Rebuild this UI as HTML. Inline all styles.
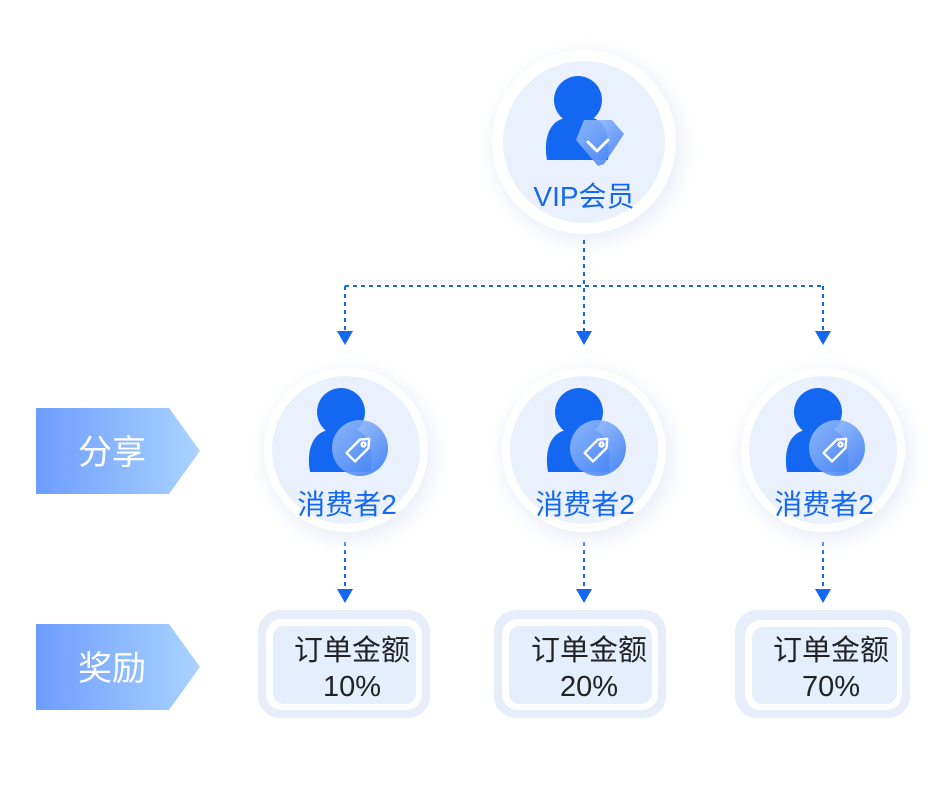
<!DOCTYPE html>
<html><head><meta charset="utf-8"><style>
html,body{margin:0;padding:0;background:#fff;}
svg{display:block;font-family:"Liberation Sans","Noto Sans CJK SC",sans-serif;}
</style></head><body>
<svg width="952" height="796" viewBox="0 0 952 796" xmlns="http://www.w3.org/2000/svg">
<defs>
<linearGradient id="lab" x1="0" x2="1" y1="0" y2="0"><stop offset="0" stop-color="#6e9cff"/><stop offset="1" stop-color="#a9d4ff"/></linearGradient>
<linearGradient id="badge" x1="0" y1="0" x2="1" y2="1"><stop offset="0" stop-color="#9fc2fb" stop-opacity="0.85"/><stop offset="1" stop-color="#3d7ef5" stop-opacity="0.95"/></linearGradient>
<filter id="blur" x="-30%" y="-30%" width="160%" height="160%"><feGaussianBlur stdDeviation="8"/></filter>
<g id="person">
<circle cx="0" cy="-38" r="24" fill="#1467f0"/>
<path d="M-31 22 C-35 0 -28 -18 -12 -20 L14 -20 C28 -18 32 0 30 22 Z" fill="#1467f0"/>
</g>
<g id="tagbadge">
<circle cx="0" cy="0" r="28" fill="url(#badge)"/>
<g transform="rotate(-45)" fill="none" stroke="#fff" stroke-width="2.4" stroke-linejoin="round">
<path d="M-13 -6 L6 -6 L13 0 L6 6 L-13 6 Z"/><circle cx="5" cy="0" r="2"/>
</g>
</g>
</defs>

<circle cx="588" cy="148" r="96" fill="#e8edf7" filter="url(#blur)" opacity="0.8"/>
<circle cx="584" cy="142" r="92" fill="#fff"/>
<circle cx="584" cy="142" r="81" fill="#eaf1fd"/>
<use href="#person" x="578" y="138"/>
<path d="M584 120 L612 120 L624 134 L604 164 L598 166 L576 140 Z" fill="url(#badge)"/>
<path d="M588 142 L597 151 L608 140" fill="none" stroke="#fff" stroke-width="3" stroke-linecap="round" stroke-linejoin="round"/>
<text x="584" y="206" text-anchor="middle" font-size="28" fill="#1467f0">VIP会员</text>

<g stroke="#1467f0" stroke-width="2" stroke-dasharray="4 4" fill="none">
<path d="M584 240 V332"/><path d="M345 286 H823"/><path d="M345 286 V332"/><path d="M823 286 V332"/>
<path d="M345 542 V590"/><path d="M584 542 V590"/><path d="M823 542 V590"/>
</g>
<g fill="#1467f0">
<path d="M337 331 H353 L345 345 Z"/><path d="M576 331 H592 L584 345 Z"/><path d="M815 331 H831 L823 345 Z"/>
<path d="M337 589 H353 L345 603 Z"/><path d="M576 589 H592 L584 603 Z"/><path d="M815 589 H831 L823 603 Z"/>
</g>

<path d="M36 408 H169 L200 451 L169 494 H36 Z" fill="url(#lab)"/>
<text x="112" y="464" text-anchor="middle" font-size="34" fill="#fff">分享</text>
<path d="M36 624 H169 L200 667 L169 710 H36 Z" fill="url(#lab)"/>
<text x="112" y="680" text-anchor="middle" font-size="34" fill="#fff">奖励</text>

<g>
<circle cx="350" cy="456" r="86" fill="#e8edf7" filter="url(#blur)" opacity="0.8"/>
<circle cx="346" cy="450" r="82" fill="#fff"/>
<circle cx="346" cy="450" r="74" fill="#eaf1fd"/>
<use href="#person" x="341" y="450"/>
<use href="#tagbadge" x="360" y="448"/>
<text x="347" y="514" text-anchor="middle" font-size="28" fill="#1467f0">消费者2</text>
</g>
<g>
<circle cx="588" cy="456" r="86" fill="#e8edf7" filter="url(#blur)" opacity="0.8"/>
<circle cx="584" cy="450" r="82" fill="#fff"/>
<circle cx="584" cy="450" r="74" fill="#eaf1fd"/>
<use href="#person" x="579" y="450"/>
<use href="#tagbadge" x="598" y="448"/>
<text x="585" y="514" text-anchor="middle" font-size="28" fill="#1467f0">消费者2</text>
</g>
<g>
<circle cx="827" cy="456" r="86" fill="#e8edf7" filter="url(#blur)" opacity="0.8"/>
<circle cx="823" cy="450" r="82" fill="#fff"/>
<circle cx="823" cy="450" r="74" fill="#eaf1fd"/>
<use href="#person" x="818" y="450"/>
<use href="#tagbadge" x="837" y="448"/>
<text x="824" y="514" text-anchor="middle" font-size="28" fill="#1467f0">消费者2</text>
</g>

<g>
<rect x="258" y="610" width="172" height="108" rx="22" fill="#e8eef9"/>
<rect x="266" y="619" width="156" height="91" rx="16" fill="#fff"/>
<rect x="273" y="626" width="143" height="78" rx="11" fill="#e5eefd"/>
<text x="352" y="660" text-anchor="middle" font-size="29" fill="#222">订单金额</text>
<text x="352" y="696" text-anchor="middle" font-size="29" fill="#222">10%</text>
</g>
<g>
<rect x="494" y="610" width="172" height="108" rx="22" fill="#e8eef9"/>
<rect x="502" y="619" width="156" height="91" rx="16" fill="#fff"/>
<rect x="509" y="626" width="143" height="78" rx="11" fill="#e5eefd"/>
<text x="589" y="660" text-anchor="middle" font-size="29" fill="#222">订单金额</text>
<text x="589" y="696" text-anchor="middle" font-size="29" fill="#222">20%</text>
</g>
<g>
<rect x="735" y="610" width="175" height="108" rx="22" fill="#e8eef9"/>
<rect x="745" y="620" width="157" height="90" rx="16" fill="#fff"/>
<rect x="752" y="627" width="145" height="77" rx="11" fill="#e5eefd"/>
<text x="831" y="660" text-anchor="middle" font-size="29" fill="#222">订单金额</text>
<text x="831" y="696" text-anchor="middle" font-size="29" fill="#222">70%</text>
</g>
</svg>
</body></html>
